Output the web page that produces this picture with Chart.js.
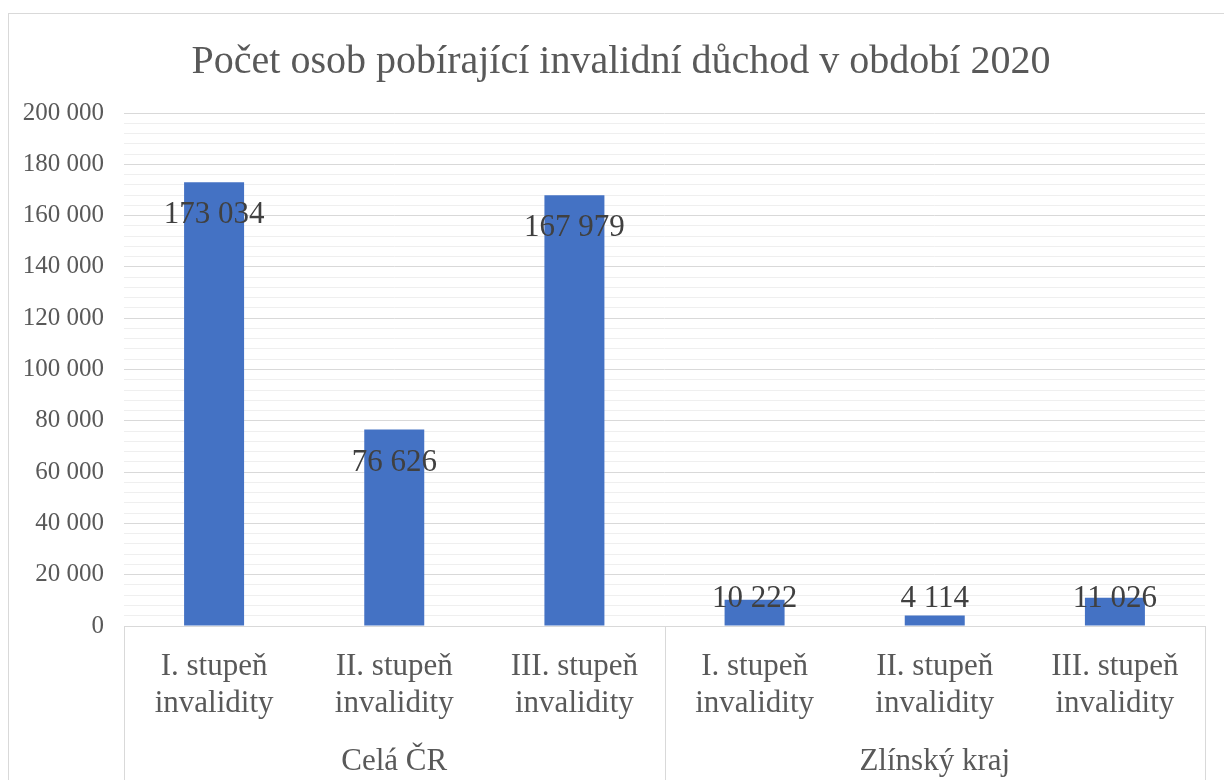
<!DOCTYPE html>
<html lang="cs">
<head>
<meta charset="utf-8">
<script src="https://cdn.jsdelivr.net/npm/chart.js@4/dist/chart.umd.min.js"></script>
<style>
    html, body { margin: 0; padding: 0; background: #fff; overflow: hidden; }
    #frame {
        position: absolute; left: 8px; top: 13px;
        border-left: 1px solid #d9d9d9; border-top: 1px solid #d9d9d9;
    }
    canvas { display: block; }
</style>
</head>
<body>
<div id="frame"><canvas id="chart" width="1224" height="766"></canvas></div>
<script>
// ── Data ───────────────────────────────────────────────────────────────────
const TITLE = 'Počet osob pobírající invalidní důchod v období 2020';
const CATEGORIES = [
    ['I. stupeň', 'invalidity'],
    ['II. stupeň', 'invalidity'],
    ['III. stupeň', 'invalidity'],
    ['I. stupeň', 'invalidity'],
    ['II. stupeň', 'invalidity'],
    ['III. stupeň', 'invalidity'],
];
const GROUPS = ['Celá ČR', 'Zlínský kraj'];
const VALUES = [173034, 76626, 167979, 10222, 4114, 11026];
const Y_MAX = 200000;
const Y_MAJOR = 20000;
const Y_MINOR = 4000;

const FONT = '"Liberation Serif", "Times New Roman", serif';
const fmt = v => String(v).replace(/\B(?=(\d{3})+(?!\d))/g, ' ');

// ── Plugins ────────────────────────────────────────────────────────────────

// value labels, inside end of the bar (pushed up for short bars)
const valueLabels = {
    id: 'valueLabels',
    afterDatasetsDraw(chart) {
        const { ctx } = chart;
        const meta = chart.getDatasetMeta(0);
        ctx.save();
        ctx.font = `31px ${FONT}`;
        ctx.fillStyle = '#404040';
        ctx.textAlign = 'center';
        ctx.textBaseline = 'middle';
        meta.data.forEach((bar, i) => {
            const y = Math.min(bar.y + 33, bar.base - 27);
            ctx.fillText(fmt(VALUES[i]), bar.x, y);
        });
        ctx.restore();
    },
};

// vertical separators of the two-level category axis
const groupLines = {
    id: 'groupLines',
    afterDraw(chart) {
        const { ctx, chartArea, scales } = chart;
        const x = scales.x;
        const mid = (x.getPixelForValue(2) + x.getPixelForValue(3)) / 2;
        ctx.save();
        ctx.strokeStyle = '#d9d9d9';
        ctx.lineWidth = 1;
        [chartArea.left, mid, chartArea.right].forEach(px => {
            const p = Math.round(px) + 0.5;
            ctx.beginPath();
            ctx.moveTo(p, chartArea.bottom);
            ctx.lineTo(p, chart.height);
            ctx.stroke();
        });
        ctx.restore();
    },
};

// ── Chart ──────────────────────────────────────────────────────────────────

new Chart(document.getElementById('chart'), {
    type: 'bar',
    data: {
        labels: CATEGORIES,
        datasets: [{
            data: VALUES,
            backgroundColor: '#4472c4',
            barPercentage: 0.333,
            categoryPercentage: 1,
            xAxisID: 'x',
        }],
    },
    options: {
        responsive: false,
        animation: false,
        layout: { padding: 0 },
        plugins: {
            legend: { display: false },
            tooltip: { enabled: false },
            title: {
                display: true,
                text: TITLE,
                color: '#595959',
                font: { family: FONT, size: 40, weight: 'normal' },
                padding: { top: 24, bottom: 27 },
            },
        },
        scales: {
            y: {
                min: 0,
                max: Y_MAX,
                afterFit: s => { s.width = 115; },
                border: { display: false },
                grid: {
                    drawTicks: false,
                    color: ctx => (ctx.tick.value % Y_MAJOR === 0 ? '#d9d9d9' : '#efefef'),
                },
                ticks: {
                    stepSize: Y_MINOR,
                    autoSkip: false,
                    padding: 20,
                    color: '#595959',
                    font: { family: FONT, size: 25 },
                    callback: v => (v % Y_MAJOR === 0 ? fmt(v) : ''),
                },
            },
            // empty spacer on the right so the chart area ends where the reference does
            yRight: {
                position: 'right',
                afterFit: s => { s.width = 28; },
                border: { display: false },
                grid: { display: false },
                ticks: { display: false },
            },
            x: {
                afterFit: s => { s.height = 94; },
                grid: { display: false },
                border: { display: true, color: '#d9d9d9' },
                ticks: {
                    padding: 14,
                    maxRotation: 0,
                    autoSkip: false,
                    color: '#595959',
                    font: { family: FONT, size: 31, lineHeight: 1.2 },
                },
            },
            x2: {
                type: 'category',
                labels: GROUPS,
                position: 'bottom',
                offset: true,
                afterFit: s => { s.height = 60; },
                grid: { display: false },
                border: { display: false },
                ticks: {
                    padding: 15,
                    maxRotation: 0,
                    color: '#595959',
                    font: { family: FONT, size: 31 },
                },
            },
        },
    },
    plugins: [valueLabels, groupLines],
});
</script>
</body>
</html>
